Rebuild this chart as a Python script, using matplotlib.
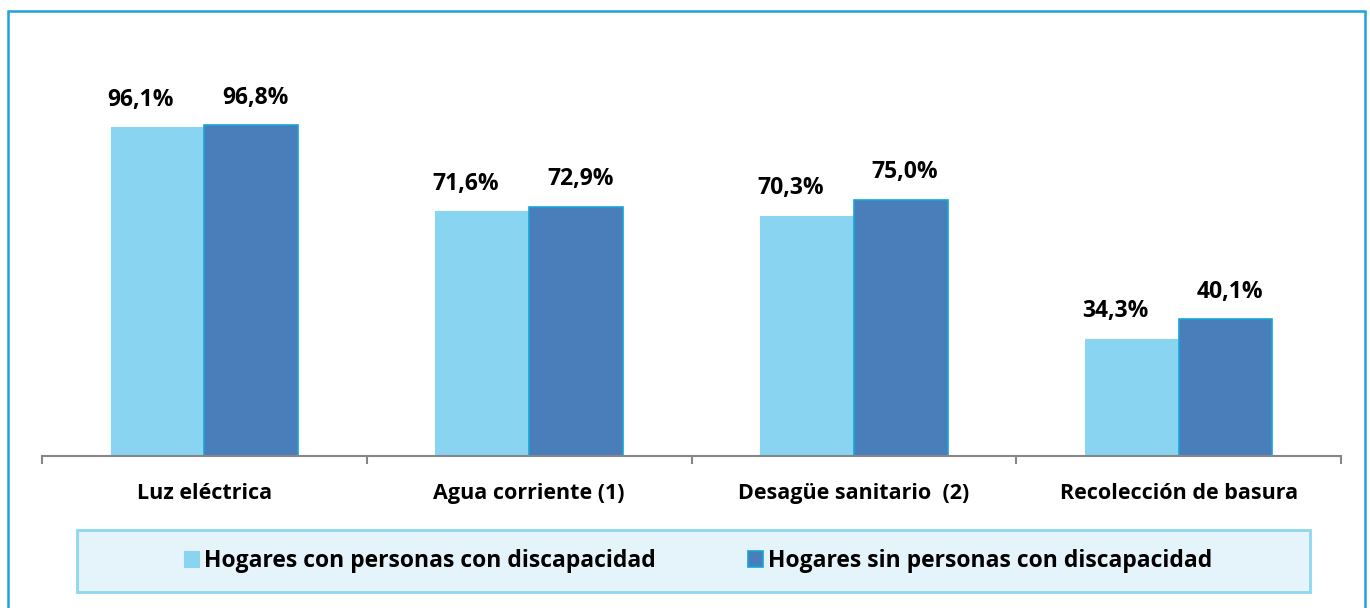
import matplotlib
matplotlib.use('Agg')
import matplotlib.pyplot as plt
from matplotlib.patches import Rectangle
import numpy as np

# Datos
categorias = ['Luz eléctrica', 'Agua corriente (1)', 'Desagüe sanitario  (2)', 'Recolección de basura']
con_discapacidad = [96.1, 71.6, 70.3, 34.3]
sin_discapacidad = [96.8, 72.9, 75.0, 40.1]
series = ['Hogares con personas con discapacidad', 'Hogares sin personas con discapacidad']

COLOR_CLARO = '#89D4F1'
COLOR_OSCURO = '#4A7EBB'
COLOR_MARCO = '#1EA3D9'

plt.rcParams['font.family'] = ['Open Sans', 'DejaVu Sans']
plt.rcParams['font.weight'] = 'bold'

fig = plt.figure(figsize=(13.7, 6.08), dpi=100)
ax = fig.add_axes([42 / 1370, 152 / 608, (1341 - 42) / 1370, 342 / 608])

x = np.arange(len(categorias))
ancho = 0.289

b1 = ax.bar(x - ancho / 2, con_discapacidad, ancho, color=COLOR_CLARO,
            edgecolor=COLOR_CLARO, linewidth=0.8, label=series[0])
b2 = ax.bar(x + ancho / 2, sin_discapacidad, ancho, color=COLOR_OSCURO,
            edgecolor='#17A5DA', linewidth=1.2, label=series[1])

# Etiquetas de datos
for rects, vals, dx in [(b1, con_discapacidad, -12), (b2, sin_discapacidad, 3)]:
    for r, v in zip(rects, vals):
        ax.annotate(f'{v:.1f}%'.replace('.', ','),
                    (r.get_x() + r.get_width() / 2, r.get_height()),
                    xytext=(dx, 11), textcoords='offset points',
                    ha='center', va='bottom', fontsize=16.5, fontweight='bold')

ax.set_xlim(-0.5, len(categorias) - 0.5)
ax.set_ylim(0, 100)
ax.set_yticks([])
for s in ['top', 'right', 'left']:
    ax.spines[s].set_visible(False)
ax.spines['bottom'].set_color('#868686')
ax.spines['bottom'].set_linewidth(1.5)

ax.set_xticks(np.arange(len(categorias) + 1) - 0.5)
ax.set_xticklabels([])
ax.tick_params(axis='x', which='major', direction='out', length=6,
               width=1.5, color='#868686')
ax.set_xticks(x, minor=True)
ax.set_xticklabels(categorias, minor=True, fontsize=15.5, fontweight='bold',
                   va='baseline')
ax.tick_params(axis='x', which='minor', length=0, pad=31)

# Caja de la leyenda
fig.patches.append(Rectangle((77 / 1370, 16 / 608), (1310 - 77) / 1370, 62 / 608,
                             transform=fig.transFigure, facecolor='#E5F4FA',
                             edgecolor='#8DD7F0', linewidth=2, zorder=0))
leg = fig.legend(handles=[b1, b2], labels=series, loc='center',
                 bbox_to_anchor=(698 / 1370, 47 / 608), ncol=2, frameon=False,
                 fontsize=16.5, handlelength=0.68, handleheight=0.68,
                 handletextpad=0.22, columnspacing=4.0)
for t in leg.get_texts():
    t.set_fontweight('bold')

# Marco exterior
fig.patches.append(Rectangle((8 / 1370, -10 / 608), (1365 - 8) / 1370, 607 / 608,
                             transform=fig.transFigure, fill=False,
                             edgecolor=COLOR_MARCO, linewidth=1.8))

fig.savefig('out.png', dpi=100)
